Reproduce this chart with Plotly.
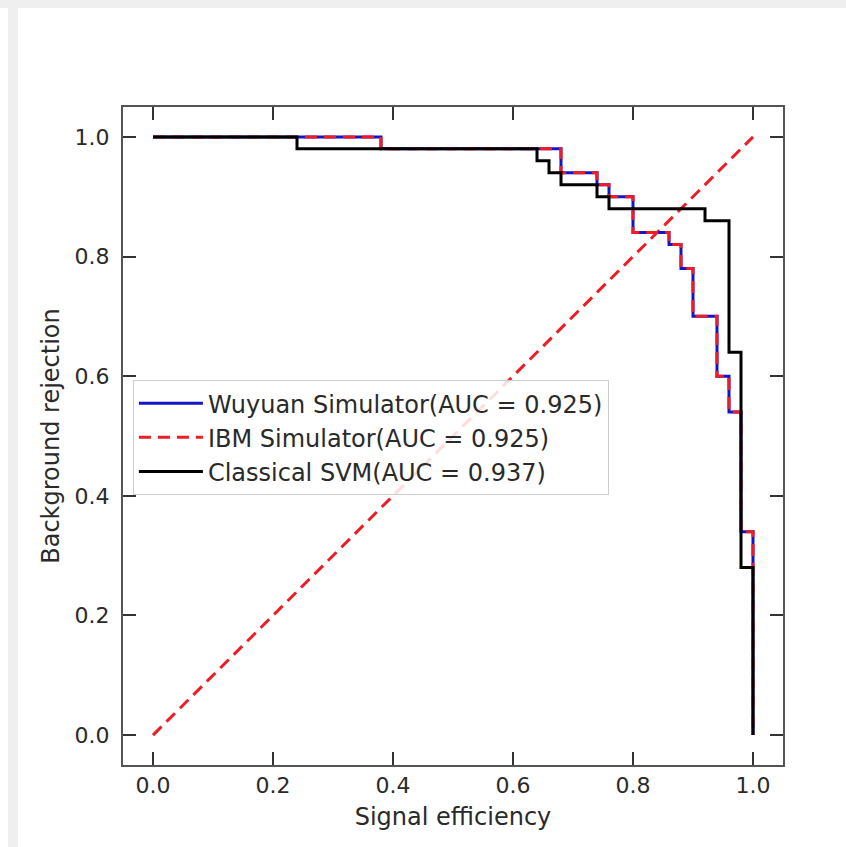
import plotly.graph_objects as go

# Quantum SVM ROC (Wuyuan and IBM simulators give identical curves)
q_x = [0.0, 0.38, 0.68, 0.74, 0.76, 0.80, 0.86, 0.88, 0.90, 0.94, 0.96, 0.98, 1.00, 1.00]
q_y = [1.0, 0.98, 0.94, 0.92, 0.90, 0.84, 0.82, 0.78, 0.70, 0.60, 0.54, 0.34, 0.28, 0.00]

# Classical SVM ROC
c_x = [0.0, 0.24, 0.64, 0.66, 0.68, 0.74, 0.76, 0.92, 0.96, 0.98, 1.00, 1.00]
c_y = [1.0, 0.98, 0.96, 0.94, 0.92, 0.90, 0.88, 0.86, 0.64, 0.28, 0.00, 0.00]

diag_x = [0.0, 1.0]
diag_y = [0.0, 1.0]

labels = ["Wuyuan Simulator(AUC = 0.925)",
          "IBM Simulator(AUC = 0.925)",
          "Classical SVM(AUC = 0.937)"]

tick_vals = [0.0, 0.2, 0.4, 0.6, 0.8, 1.0]
tick_text = ["0.0", "0.2", "0.4", "0.6", "0.8", "1.0"]

FONT = "DejaVu Sans"
TXT = "#2a2a2a"

fig = go.Figure()
fig.add_trace(go.Scatter(x=diag_x, y=diag_y, mode="lines", showlegend=False,
                         line=dict(color="#ee1c25", width=3, dash="12px,7px")))
fig.add_trace(go.Scatter(x=q_x, y=q_y, mode="lines", name=labels[0],
                         line=dict(color="#1515c8", width=3, shape="hv")))
fig.add_trace(go.Scatter(x=q_x, y=q_y, mode="lines", name=labels[1],
                         line=dict(color="#ee1c25", width=3, shape="hv", dash="12px,7px")))
fig.add_trace(go.Scatter(x=c_x, y=c_y, mode="lines", name=labels[2],
                         line=dict(color="black", width=3, shape="hv")))

axis_common = dict(
    showgrid=False, zeroline=False, showline=True, linecolor="#555555", linewidth=2,
    mirror="allticks", ticks="inside", ticklen=13, tickwidth=2, tickcolor="#333333",
    tickvals=tick_vals, ticktext=tick_text,
    tickfont=dict(family=FONT, size=22, color=TXT),
)

fig.update_layout(
    width=846, height=847,
    margin=dict(l=123, r=63, t=107, b=82),
    paper_bgcolor="white", plot_bgcolor="white",
    font=dict(family=FONT, size=22, color=TXT),
    xaxis=dict(range=[-0.05, 1.05], title=dict(text="Signal efficiency",
               font=dict(family=FONT, size=24, color=TXT), standoff=11),
               ticklabelstandoff=0, **axis_common),
    yaxis=dict(range=[-0.05, 1.05], title=dict(text="Background rejection",
               font=dict(family=FONT, size=24, color=TXT), standoff=8),
               ticklabelstandoff=7, **axis_common),
    legend=dict(x=0.015, y=0.585, xanchor="left", yanchor="top",
                bgcolor="rgba(255,255,255,0.85)", bordercolor="#cccccc", borderwidth=1,
                font=dict(family=FONT, size=24, color=TXT), tracegroupgap=0,
                itemwidth=64),
    showlegend=True,
    shapes=[
        dict(type="rect", xref="paper", yref="paper", x0=-0.2, x1=1.1,
             y0=(765 - 8) / 658, y1=1.17, fillcolor="#efefef", line=dict(width=0), layer="below"),
        dict(type="rect", xref="paper", yref="paper", x0=(8 - 123) / 660, x1=(18 - 123) / 660,
             y0=-0.13, y1=(765 - 8) / 658, fillcolor="#efefef", line=dict(width=0), layer="below"),
    ],
)

fig.write_html("out.html", config={"displayModeBar": False},
               post_script="document.body.style.margin='0';document.body.style.overflow='hidden';")
